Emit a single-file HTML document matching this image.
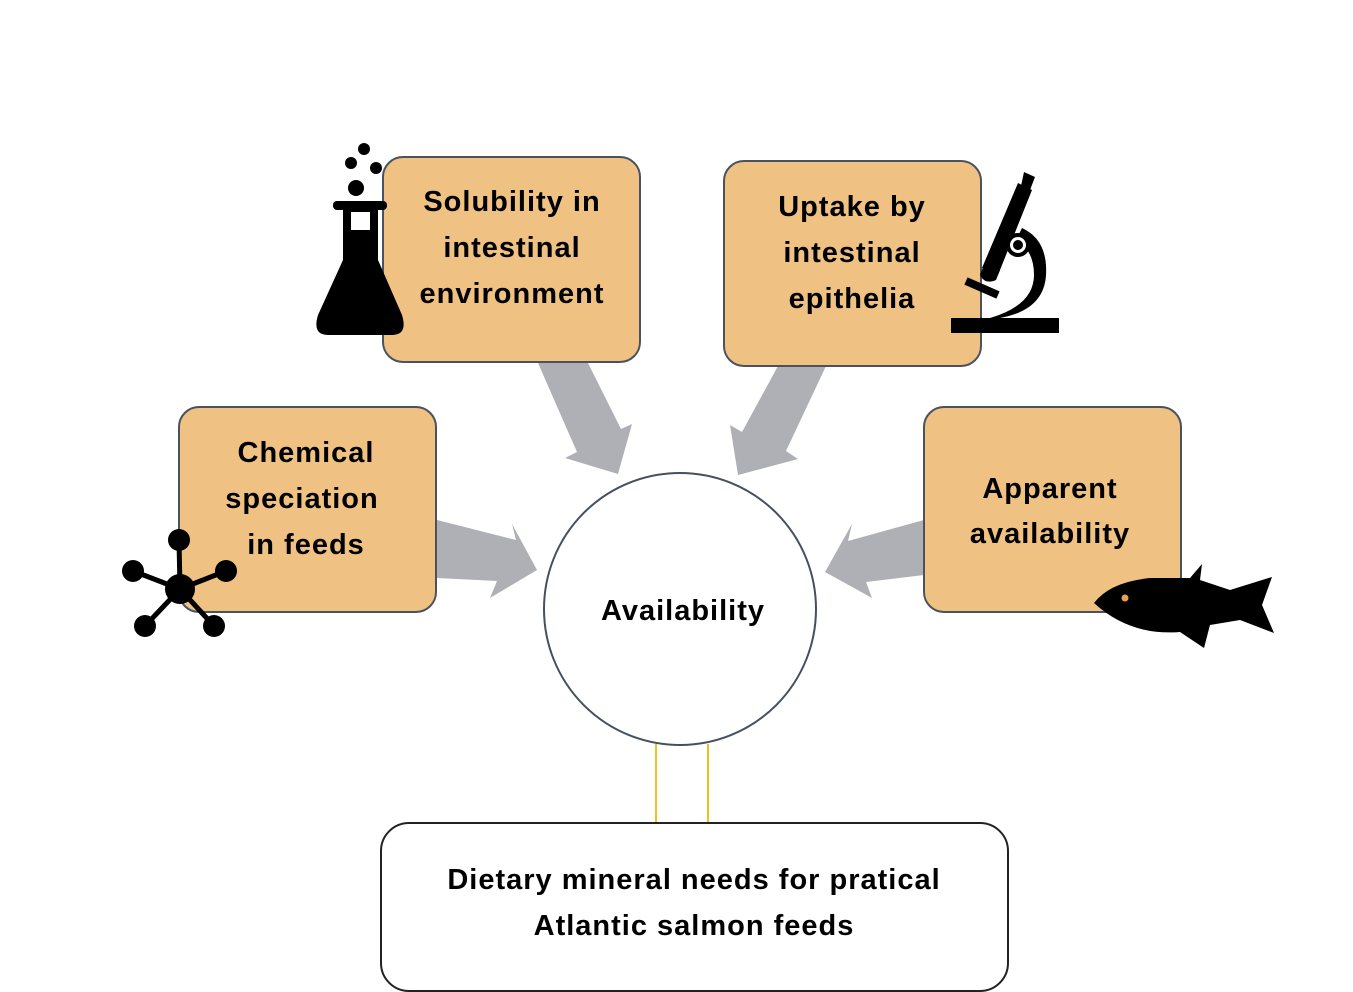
<!DOCTYPE html>
<html><head><meta charset="utf-8"><style>
html,body{margin:0;padding:0;background:#fff;}
svg{display:block;}
text{font-family:"Liberation Sans",sans-serif;font-weight:bold;fill:#000;text-anchor:middle;letter-spacing:1px;}
</style></head><body>
<svg width="1353" height="992" viewBox="0 0 1353 992" xmlns="http://www.w3.org/2000/svg">
<!-- arrows -->
<g fill="#AEB0B5">
<polygon points="538,363 588,363 621,429 632,424 618,474 565,458 577,452"/>
<polygon points="778,366 826,366 786,451 798,459 738,475 730,425 742,432"/>
<polygon points="437,520 516,540 512,524 537,570 490,598 497,581 437,578"/>
<polygon points="924,520 848,541 852,524 825,572 872,598 866,582 924,575"/>
</g>
<!-- yellow lines -->
<line x1="656" y1="744" x2="656" y2="823" stroke="#F0C020" stroke-width="2"/>
<line x1="708" y1="744" x2="708" y2="823" stroke="#F0C020" stroke-width="2"/>
<!-- circle -->
<circle cx="680" cy="609" r="136" fill="#fff" stroke="#44505f" stroke-width="2"/>
<text x="683" y="620" font-size="29" style="font-weight:600">Availability</text>
<!-- boxes -->
<g fill="#EFC283" stroke="#4a5260" stroke-width="2">
<rect x="383" y="157" width="257" height="205" rx="20"/>
<rect x="724" y="161" width="257" height="205" rx="20"/>
<rect x="179" y="407" width="257" height="205" rx="20"/>
<rect x="924" y="407" width="257" height="205" rx="20"/>
</g>
<rect x="381" y="823" width="627" height="168" rx="28" fill="#fff" stroke="#222" stroke-width="2"/>
<g font-size="29">
<text x="512" y="211">Solubility in</text>
<text x="512" y="257">intestinal</text>
<text x="512" y="303">environment</text>
<text x="852" y="216">Uptake by</text>
<text x="852" y="262">intestinal</text>
<text x="852" y="308">epithelia</text>
<text x="306" y="462">Chemical</text>
<text x="302" y="508">speciation</text>
<text x="306" y="554">in feeds</text>
<text x="1050" y="498">Apparent</text>
<text x="1050" y="543">availability</text>
<text x="694" y="889">Dietary mineral needs for pratical</text>
<text x="694" y="935">Atlantic salmon feeds</text>
</g>
<!-- flask -->
<g fill="#000">
<circle cx="364" cy="149" r="6"/><circle cx="351" cy="163" r="6"/><circle cx="376" cy="168" r="6"/><circle cx="356" cy="188" r="8"/>
<rect x="333" y="201" width="54" height="9" rx="4"/>
<path d="M343,208 L378,208 L378,260 L402,315 Q408,335 392,335 L328,335 Q312,335 318,315 L343,260 Z"/>
<rect x="351" y="212" width="19" height="18" fill="#fff"/>
</g>
<!-- microscope -->
<g fill="#000">
<rect x="951" y="318" width="108" height="15"/>
<polygon points="1024,172 1035,177 1030,190 1021,186"/>
<polygon points="1018,183 1032,190 998,275 982,268"/>
<path d="M985,262 L1000,270 L996,280 Q985,285 980,275 Z"/>
<line x1="966" y1="281" x2="998" y2="295" stroke="#000" stroke-width="8"/>
<path d="M1022,228 Q1048,240 1046,275 Q1044,310 1000,318 L990,318 Q1034,305 1034,275 Q1034,250 1016,240 Z"/>
<circle cx="1018" cy="245" r="12"/>
<circle cx="1018" cy="245" r="8" fill="#fff"/>
<circle cx="1018" cy="245" r="5"/>
</g>
<!-- molecule -->
<g stroke="#000" stroke-width="5">
<line x1="180" y1="589" x2="179" y2="540"/><line x1="180" y1="589" x2="133" y2="571"/><line x1="180" y1="589" x2="226" y2="571"/><line x1="180" y1="589" x2="145" y2="626"/><line x1="180" y1="589" x2="214" y2="626"/>
</g>
<g fill="#000">
<circle cx="180" cy="589" r="15"/><circle cx="179" cy="540" r="11"/><circle cx="133" cy="571" r="11"/><circle cx="226" cy="571" r="11"/><circle cx="145" cy="626" r="11"/><circle cx="214" cy="626" r="11"/>
</g>
<!-- fish -->
<g fill="#000">
<path d="M1094,603 Q1110,582 1150,578 L1190,578 L1202,564 L1200,580 L1230,590 L1272,577 L1262,605 L1274,633 L1240,620 L1210,625 L1204,648 L1180,632 Q1130,636 1094,603 Z"/>
</g>
<circle cx="1125" cy="598" r="3.5" fill="#E8A050"/>
</svg>
</body></html>
